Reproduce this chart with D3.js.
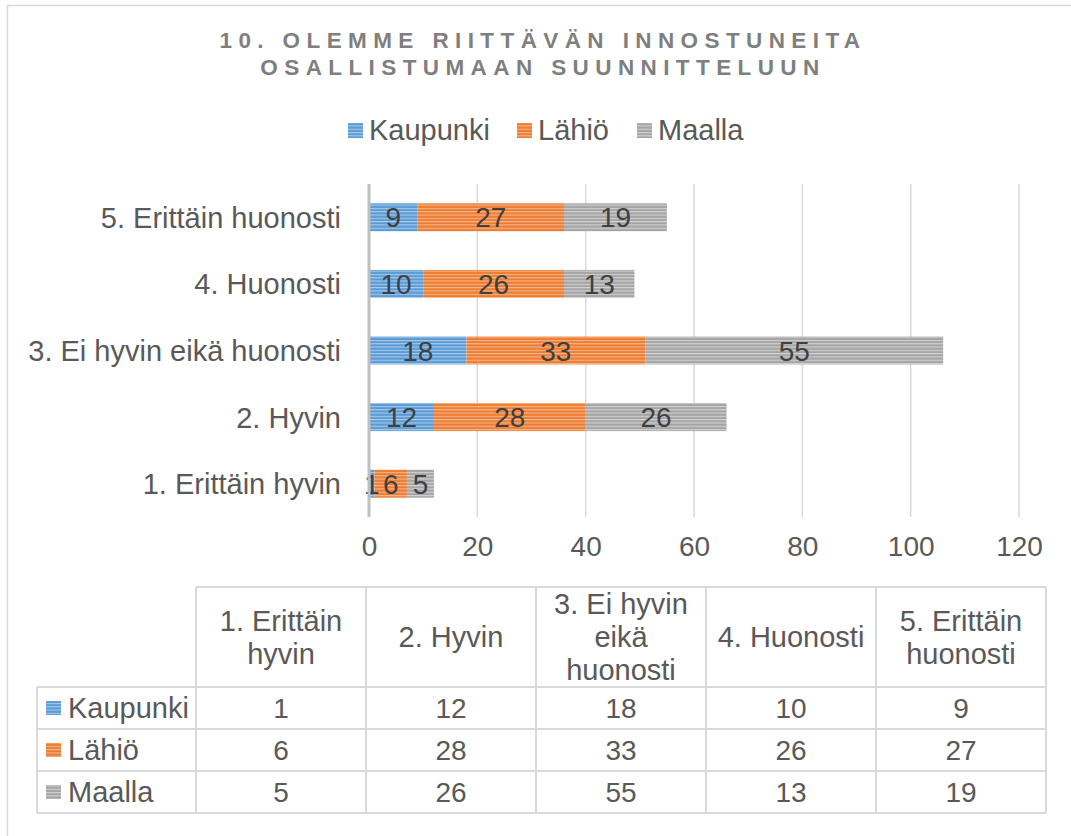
<!DOCTYPE html>
<html><head><meta charset="utf-8">
<script src="https://cdn.jsdelivr.net/npm/d3@7"></script>
<style>
html,body{margin:0;padding:0;background:#fff;}
svg{display:block;font-family:"Liberation Sans",Arial,sans-serif;}
</style></head>
<body><svg id="c" width="1071" height="836"></svg>
<script>
const titleLines = ["10. OLEMME RIITTÄVÄN INNOSTUNEITA", "OSALLISTUMAAN SUUNNITTELUUN"];
const categories = ["1. Erittäin hyvin", "2. Hyvin", "3. Ei hyvin eikä huonosti", "4. Huonosti", "5. Erittäin huonosti"];
const headerLines = [["1. Erittäin", "hyvin"], ["2. Hyvin"], ["3. Ei hyvin", "eikä", "huonosti"], ["4. Huonosti"], ["5. Erittäin", "huonosti"]];
const seriesNames = ["Kaupunki", "Lähiö", "Maalla"];
const kaupunki = [1, 12, 18, 10, 9];
const lahio = [6, 28, 33, 26, 27];
const maalla = [5, 26, 55, 13, 19];
const xTicks = [0, 20, 40, 60, 80, 100, 120];
const seriesValues = [kaupunki, lahio, maalla];
const colors = ["#5b9bd5", "#ed7d31", "#a5a5a5"];
const stripeColors = ["#a9cbec", "#f6b68d", "#d2d2d2"];

const svg = d3.select("#c");
const defs = svg.append("defs");
colors.forEach((c, i) => {
  const p = defs.append("pattern").attr("id", "pat" + i).attr("patternUnits", "userSpaceOnUse")
    .attr("width", 8).attr("height", 3.3);
  p.append("rect").attr("width", 8).attr("height", 3.3).attr("fill", c);
  p.append("rect").attr("y", 0).attr("width", 8).attr("height", 1.1).attr("fill", stripeColors[i]);
});

// outer border
svg.append("path").attr("d", "M7.5,836 V5.5 H1071").attr("fill", "none").attr("stroke", "#d9d9d9").attr("stroke-width", 1.5);

// title
const title = svg.append("text").attr("text-anchor", "middle").attr("fill", "#7f7f7f")
  .attr("font-weight", "bold").attr("font-size", 22.5).style("letter-spacing", "6.4px");
titleLines.forEach((t, i) => title.append("tspan").attr("x", 543).attr("y", 48 + i * 27).text(t));

// legend
const legendX = [348, 517, 637];
seriesNames.forEach((s, i) => {
  svg.append("rect").attr("x", legendX[i]).attr("y", 123).attr("width", 15).attr("height", 15).attr("fill", "url(#pat" + i + ")");
  svg.append("text").attr("x", legendX[i] + 21).attr("y", 140).attr("font-size", 29).attr("fill", "#595959").text(s);
});

// scales
const x = d3.scaleLinear().domain([0, 120]).range([369, 1019]);
const y = d3.scaleBand().domain(categories.slice().reverse()).range([184, 517]).paddingInner(0.58).paddingOuter(0.29);

// grid
svg.append("g").selectAll("line").data(xTicks.slice(1)).join("line")
  .attr("x1", d => x(d)).attr("x2", d => x(d)).attr("y1", 184).attr("y2", 517)
  .attr("stroke", "#d9d9d9").attr("stroke-width", 1.5);

// stacked bars
const rows = categories.map((c, i) => ({cat: c, Kaupunki: kaupunki[i], "Lähiö": lahio[i], Maalla: maalla[i]}));
const stack = d3.stack().keys(seriesNames)(rows);
stack.forEach((layer, si) => {
  svg.append("g").selectAll("rect").data(layer).join("rect")
    .attr("x", d => x(d[0])).attr("width", d => x(d[1]) - x(d[0]))
    .attr("y", d => y(d.data.cat)).attr("height", y.bandwidth())
    .attr("fill", "url(#pat" + si + ")");
});
stack.forEach((layer, si) => {
  svg.append("g").selectAll("text").data(layer).join("text")
    .attr("x", d => (x(d[0]) + x(d[1])) / 2).attr("y", d => y(d.data.cat) + y.bandwidth() / 2 + 10)
    .attr("text-anchor", "middle").attr("font-size", 28).attr("fill", "#404040")
    .text(d => d[1] - d[0]);
});

// y axis line
svg.append("line").attr("x1", 369).attr("x2", 369).attr("y1", 184).attr("y2", 517)
  .attr("stroke", "#bfbfbf").attr("stroke-width", 3);

// category labels
const yAxis = svg.append("g").attr("transform", "translate(369,0)")
  .call(d3.axisLeft(y).tickSize(0).tickPadding(28));
yAxis.select(".domain").remove();
yAxis.selectAll("text").attr("font-size", 29).attr("fill", "#595959").attr("font-family", "Liberation Sans, Arial, sans-serif").attr("dy", "0.36em");

// x axis ticks
const xAxis = svg.append("g").attr("transform", "translate(0,517)")
  .call(d3.axisBottom(x).tickValues(xTicks).tickSize(0).tickPadding(18));
xAxis.select(".domain").remove();
xAxis.selectAll("text").attr("font-size", 28).attr("fill", "#595959").attr("font-family", "Liberation Sans, Arial, sans-serif").attr("dy", "0.75em");

// data table
const colX = d3.scaleBand().domain(categories).range([196, 1046]);
const rowTops = [687, 729, 771];
const tbl = svg.append("g").attr("stroke", "#d9d9d9").attr("stroke-width", 2);
tbl.append("line").attr("x1", 196).attr("x2", 1046).attr("y1", 587).attr("y2", 587);
tbl.append("line").attr("x1", 37).attr("x2", 1046).attr("y1", 687).attr("y2", 687);
rowTops.forEach(t => tbl.append("line").attr("x1", 37).attr("x2", 1046).attr("y1", t + 42).attr("y2", t + 42));
tbl.append("line").attr("x1", 37).attr("x2", 37).attr("y1", 687).attr("y2", 813);
categories.forEach(c => tbl.append("line").attr("x1", colX(c)).attr("x2", colX(c)).attr("y1", 587).attr("y2", 813));
tbl.append("line").attr("x1", 1046).attr("x2", 1046).attr("y1", 587).attr("y2", 813);

// header texts
categories.forEach((c, i) => {
  const lines = headerLines[i];
  const cx = colX(c) + colX.bandwidth() / 2;
  const lh = 33;
  const y0 = 637 - (lines.length - 1) * lh / 2 + 10;
  const t = svg.append("text").attr("text-anchor", "middle").attr("font-size", 29).attr("fill", "#595959");
  lines.forEach((l, j) => t.append("tspan").attr("x", cx).attr("y", y0 + j * lh).text(l));
});
// series rows
seriesNames.forEach((s, si) => {
  const cy = rowTops[si] + 21;
  svg.append("rect").attr("x", 46).attr("y", cy - 7).attr("width", 15).attr("height", 14).attr("fill", "url(#pat" + si + ")");
  svg.append("text").attr("x", 68).attr("y", cy + 10).attr("font-size", 29).attr("fill", "#595959").text(s);
  seriesValues[si].forEach((v, ci) => {
    svg.append("text").attr("x", colX(categories[ci]) + colX.bandwidth() / 2).attr("y", cy + 10)
      .attr("text-anchor", "middle").attr("font-size", 28).attr("fill", "#595959").text(v);
  });
});
</script>
</body></html>
